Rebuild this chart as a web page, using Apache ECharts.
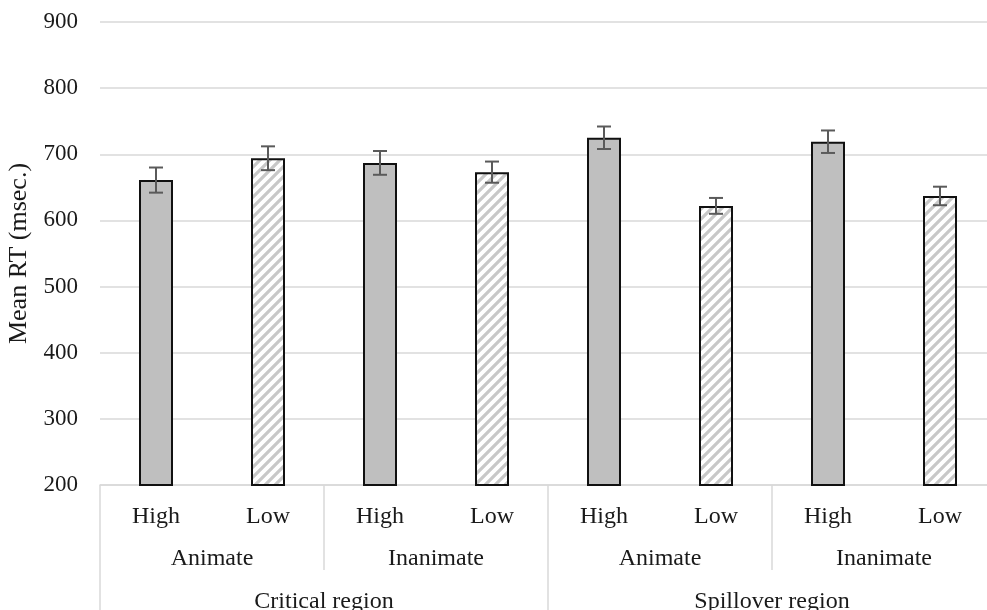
<!DOCTYPE html>
<html>
<head>
<meta charset="utf-8">
<script src="https://cdn.jsdelivr.net/npm/echarts@6/dist/echarts.min.js"></script>
<style>
html,body{margin:0;padding:0;background:#fff;}
#chart{width:987px;height:610px;}
</style>
</head>
<body>
<div id="chart"></div>
<script>
// ---- data ----
var levels = ['High', 'Low', 'High', 'Low', 'High', 'Low', 'High', 'Low'];
var animacy = ['Animate', 'Inanimate', 'Animate', 'Inanimate'];
var regions = ['Critical region', 'Spillover region'];
var means = [661, 694, 687, 673, 725, 622, 719, 637];
var errors = [19, 18, 18, 16, 17, 12, 17, 14];
var yTicks = [200, 300, 400, 500, 600, 700, 800, 900];

// ---- styles ----
var FONT = '"Liberation Serif", "DejaVu Serif", serif';
var TEXT = '#1a1a1a';
var GRIDC = '#d9d9d9';

function makeHatch() {
  var c = document.createElement('canvas');
  var s = 10;
  c.width = s; c.height = s;
  var ctx = c.getContext('2d');
  ctx.fillStyle = '#ffffff';
  ctx.fillRect(0, 0, s, s);
  ctx.strokeStyle = '#c8c8c8';
  ctx.lineWidth = 3.2;
  ctx.beginPath();
  ctx.moveTo(-s, 2 * s); ctx.lineTo(2 * s, -s);
  ctx.moveTo(-s, s); ctx.lineTo(s, -s);
  ctx.moveTo(0, 2 * s); ctx.lineTo(2 * s, 0);
  ctx.stroke();
  return c;
}
var hatch = makeHatch();

var barData = means.map(function (v, i) {
  return {
    value: v,
    itemStyle: {
      color: levels[i] === 'High' ? '#bfbfbf' : { image: hatch, repeat: 'repeat' }
    }
  };
});

var errData = means.map(function (v, i) { return [i, v - errors[i], v + errors[i]]; });

var chart = echarts.init(document.getElementById('chart'), null, { renderer: 'canvas' });
chart.setOption({
  animation: false,
  backgroundColor: '#ffffff',
  grid: { left: 100, width: 896, top: 22, height: 463, containLabel: false, outerBoundsMode: 'none' },
  xAxis: [
    {
      type: 'category', data: levels, position: 'bottom',
      axisLine: { show: true, lineStyle: { color: GRIDC, width: 1.5 } },
      axisTick: { show: false },
      axisLabel: { margin: 20, fontFamily: FONT, fontSize: 24, color: TEXT, interval: 0 }
    },
    {
      type: 'category', data: animacy, position: 'bottom',
      axisLine: { show: false },
      axisTick: { show: true, length: 85, lineStyle: { color: GRIDC, width: 1.5 } },
      axisLabel: { margin: 62, fontFamily: FONT, fontSize: 24, color: TEXT, interval: 0 }
    },
    {
      type: 'category', data: regions, position: 'bottom',
      axisLine: { show: false },
      axisTick: { show: true, length: 130, lineStyle: { color: GRIDC, width: 1.5 } },
      axisLabel: { margin: 105, fontFamily: FONT, fontSize: 24, color: TEXT, interval: 0 }
    }
  ],
  yAxis: {
    type: 'value', min: yTicks[0], max: yTicks[yTicks.length - 1], interval: 100,
    name: 'Mean RT (msec.)', nameLocation: 'middle', nameGap: 62, nameRotate: 90,
    nameTextStyle: { fontFamily: FONT, fontSize: 26, color: TEXT },
    axisLine: { show: false }, axisTick: { show: false },
    axisLabel: { margin: 22, fontFamily: FONT, fontSize: 23, color: TEXT },
    splitLine: { show: true, lineStyle: { color: GRIDC, width: 1.5 } }
  },
  series: [
    {
      type: 'bar', xAxisIndex: 0, data: barData, barWidth: 34,
      itemStyle: { borderColor: '#111111', borderWidth: 2 }
    },
    {
      type: 'custom', xAxisIndex: 0, data: errData, z: 10,
      renderItem: function (params, api) {
        var x = api.value(0);
        var lo = api.coord([x, api.value(1)]);
        var hi = api.coord([x, api.value(2)]);
        var w = 7;
        var st = { stroke: '#5a5a5a', lineWidth: 2 };
        return {
          type: 'group',
          children: [
            { type: 'line', shape: { x1: lo[0], y1: lo[1], x2: hi[0], y2: hi[1] }, style: st },
            { type: 'line', shape: { x1: lo[0] - w, y1: lo[1], x2: lo[0] + w, y2: lo[1] }, style: st },
            { type: 'line', shape: { x1: hi[0] - w, y1: hi[1], x2: hi[0] + w, y2: hi[1] }, style: st }
          ]
        };
      }
    }
  ]
});
</script>
</body>
</html>
